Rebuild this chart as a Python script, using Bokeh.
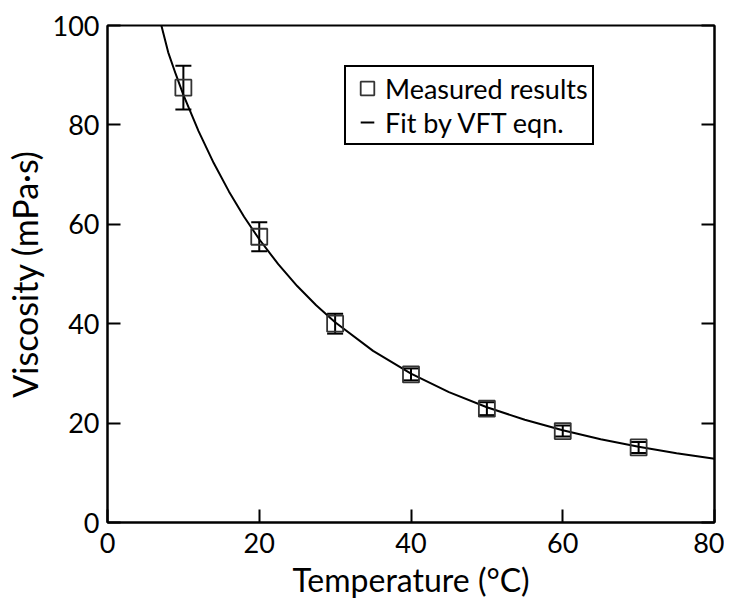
from bokeh.plotting import figure
from bokeh.models import (ColumnDataSource, Whisker, LinearAxis, Legend, LegendItem, Range1d,
                          FixedTicker, TeeHead, CustomJSTickFormatter)
from bokeh.embed import file_html
from bokeh.resources import INLINE

# Measured data
temperature = [10, 20, 30, 40, 50, 60, 70]
viscosity = [87.5, 57.5, 40.0, 29.8, 22.9, 18.4, 15.1]
viscosity_err = [4.4, 2.9, 2.0, 1.2, 1.3, 1.1, 1.1]

# VFT fit curve
fit_t = [7.1, 8, 9, 10, 12, 14, 16, 18, 20, 22.5, 25, 27.5, 30, 35, 40, 45, 50, 55, 60, 65, 70, 75, 80]
fit_v = [100.0, 94.6, 90.2, 86.05, 78.76, 72.32, 66.62, 61.53, 56.99, 51.97, 47.57, 43.70, 40.28,
         34.54, 29.95, 26.24, 23.20, 20.67, 18.55, 16.77, 15.25, 13.94, 12.81]

x_ticks = [0, 20, 40, 60, 80]
y_ticks = [0, 20, 40, 60, 80, 100]

FONT = "Lato"

src = ColumnDataSource(dict(
    t=temperature, v=viscosity,
    lo=[v - e for v, e in zip(viscosity, viscosity_err)],
    hi=[v + e for v, e in zip(viscosity, viscosity_err)],
))

p = figure(width=724, height=601, output_backend="svg", toolbar_location=None,
           x_range=Range1d(0, 80), y_range=Range1d(0, 100),
           min_border_left=107, min_border_right=10, min_border_top=25, min_border_bottom=79)
p.xgrid.visible = False
p.ygrid.visible = False
p.outline_line_color = "black"
p.outline_line_alpha = 1
p.outline_line_width = 2
p.background_fill_color = "white"
p.border_fill_color = "white"

for ax in (p.xaxis[0], p.yaxis[0]):
    ax.major_tick_in = 13
    ax.major_tick_out = 0
    ax.minor_tick_line_color = None
    ax.axis_line_width = 2
    ax.major_tick_line_width = 2
    ax.major_label_text_font = FONT
    ax.major_label_text_font_size = "27px"
    ax.major_label_text_color = "black"
    ax.axis_label_text_font = FONT
    ax.axis_label_text_font_style = "normal"
    ax.axis_label_text_color = "black"

p.xaxis[0].ticker = FixedTicker(ticks=x_ticks)
p.yaxis[0].ticker = FixedTicker(ticks=y_ticks)
p.xaxis[0].axis_label = "Temperature (°C)"
p.yaxis[0].axis_label = "Viscosity (mPa·s)"
p.xaxis[0].axis_label_text_font_size = "32px"
p.yaxis[0].axis_label_text_font_size = "34px"
p.xaxis[0].major_label_standoff = 10
p.yaxis[0].major_label_standoff = 8
p.xaxis[0].axis_label_standoff = 4
p.yaxis[0].axis_label_standoff = 5

right = LinearAxis(ticker=FixedTicker(ticks=y_ticks),
                   formatter=CustomJSTickFormatter(code="return ''"),
                   major_tick_in=13, major_tick_out=0, minor_tick_line_color=None,
                   axis_line_width=2, major_tick_line_width=2, major_label_standoff=0)
p.add_layout(right, "right")

line_r = p.line(fit_t, fit_v, line_color="black", line_width=2)

w = Whisker(source=src, base="t", lower="lo", upper="hi", line_color="black", line_width=2,
            upper_head=TeeHead(size=16, line_width=2, line_color="black"),
            lower_head=TeeHead(size=16, line_width=2, line_color="black"))
p.add_layout(w)

sq_r = p.scatter("t", "v", source=src, marker="square", size=16, fill_color=None,
                 line_color="#333333", line_width=1.8)

# legend proxy for the fit line (short dash, as in the reference)
dash_proxy = p.scatter(fit_t, fit_v, marker="dash", size=16, line_color="black", line_width=2,
                       visible=False)

legend = Legend(items=[LegendItem(label="Measured results", renderers=[sq_r]),
                       LegendItem(label="Fit by VFT eqn.", renderers=[dash_proxy])],
                location=(237, 377))
legend.border_line_color = "black"
legend.border_line_alpha = 1
legend.border_line_width = 2
legend.label_text_font = FONT
legend.label_text_font_size = "27px"
legend.label_text_color = "black"
legend.glyph_width = 34
legend.glyph_height = 34
legend.label_height = 34
legend.padding = 4
legend.spacing = 0
legend.margin = 0
legend.label_standoff = 1
legend.background_fill_alpha = 1
p.add_layout(legend, "center")

open("out.html", "w").write(file_html(p, INLINE))
